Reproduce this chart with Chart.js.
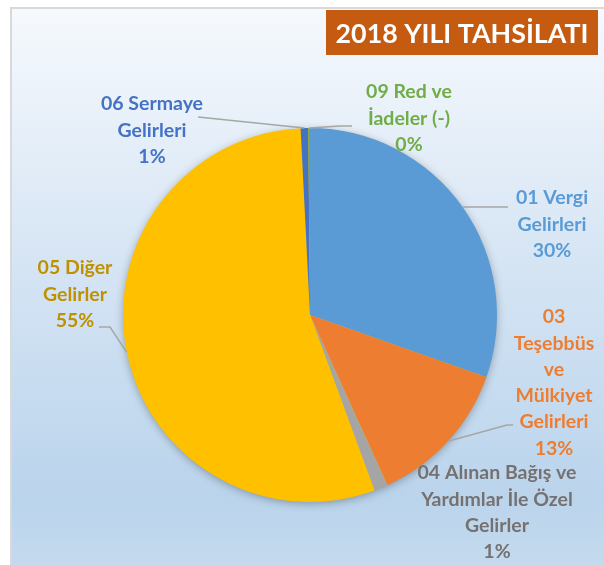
<!DOCTYPE html>
<html>
<head>
<meta charset="utf-8">
<script src="https://cdn.jsdelivr.net/npm/chart.js@4"></script>
<style>
  html, body { margin: 0; padding: 0; background: #ffffff; }
  #wrap { width: 604px; height: 565px; }
</style>
</head>
<body>
<div id="wrap"><canvas id="pieChart" width="604" height="565"></canvas></div>
<script>
// Revenue categories and their share of total collections (%)
const categories = [
    '01 Vergi Gelirleri',
    '03 Teşebbüs ve Mülkiyet Gelirleri',
    '04 Alınan Bağış ve Yardımlar İle Özel Gelirler',
    '05 Diğer Gelirler',
    '06 Sermaye Gelirleri',
    '09 Red ve İadeler (-)'
];
const shares = [30.4, 12.8, 1.2, 54.8, 0.65, 0.15];
const titleText = '2018 YILI TAHSİLATI';

// Label wording split into lines (percent line is added from the data)
const labelLines = [
    ['01 Vergi', 'Gelirleri'],
    ['03', 'Teşebbüs', 've', 'Mülkiyet', 'Gelirleri'],
    ['04 Alınan Bağış ve', 'Yardımlar İle Özel', 'Gelirler'],
    ['05 Diğer', 'Gelirler'],
    ['06 Sermaye', 'Gelirleri'],
    ['09 Red ve', 'İadeler (-)']
];

const sliceColors = ['#5B9BD5', '#ED7D31', '#A5A5A5', '#FFC000', '#4472C4', '#70AD47'];
const labelColors = ['#5B9BD5', '#ED7D31', '#767171', '#BF9000', '#4472C4', '#70AD47'];

// Label placement: centre x, first line middle y, and leader line bends
const labelPlaces = [
    { x: 552, y: 198, leader: [[508, 207]] },
    { x: 554, y: 317, leader: [[507, 425], [513, 425]] },
    { x: 497, y: 473, leader: null },
    { x: 75, y: 268, leader: [[110, 327], [99, 327]] },
    { x: 152, y: 104, leader: [[198, 117]] },
    { x: 409, y: 92, leader: [[340, 126], [352, 126]] }
];
const lineHeight = 26.3;
const labelFont = 'bold 19.5px Lato, "Open Sans", sans-serif';

// Frame, gradient background and title box
const backgroundPlugin = {
    id: 'frameBackground',
    beforeDraw(chart) {
        const ctx = chart.ctx;
        ctx.save();
        ctx.fillStyle = '#ffffff';
        ctx.fillRect(0, 0, chart.width, chart.height);
        const grad = ctx.createLinearGradient(0, 8, 0, chart.height);
        grad.addColorStop(0, '#F6F9FD');
        grad.addColorStop(0.45, '#D6E5F4');
        grad.addColorStop(0.88, '#BAD4EC');
        grad.addColorStop(1, '#C4DAEE');
        ctx.fillStyle = grad;
        ctx.fillRect(11, 8, chart.width, chart.height);
        ctx.strokeStyle = '#D9D9D9';
        ctx.lineWidth = 2;
        ctx.beginPath();
        ctx.moveTo(11, chart.height);
        ctx.lineTo(11, 8);
        ctx.lineTo(chart.width, 8);
        ctx.stroke();

        // title
        ctx.fillStyle = '#C55A11';
        ctx.fillRect(326, 10, 272, 45);
        let size = 27;
        ctx.font = 'bold ' + size + 'px Lato, "Open Sans", sans-serif';
        const w = ctx.measureText(titleText).width;
        size = size * 253 / w;
        ctx.font = 'bold ' + size + 'px Lato, "Open Sans", sans-serif';
        ctx.fillStyle = '#ffffff';
        ctx.textAlign = 'center';
        ctx.textBaseline = 'middle';
        ctx.fillText(titleText, 462, 34);
        ctx.restore();
    },
    beforeDatasetsDraw(chart) {
        // soft shadow under the pie
        const arc = chart.getDatasetMeta(0).data[0];
        if (!arc) return;
        const p = arc.getProps(['x', 'y', 'outerRadius'], true);
        const ctx = chart.ctx;
        ctx.save();
        ctx.shadowColor = 'rgba(0, 0, 0, 0.35)';
        ctx.shadowBlur = 10;
        ctx.shadowOffsetY = 2;
        ctx.fillStyle = '#FFC000';
        ctx.beginPath();
        ctx.arc(p.x, p.y, p.outerRadius - 1, 0, Math.PI * 2);
        ctx.fill();
        ctx.restore();
    }
};

// Outside labels with leader lines
const labelPlugin = {
    id: 'outsideLabels',
    afterDatasetsDraw(chart) {
        const ctx = chart.ctx;
        const meta = chart.getDatasetMeta(0);
        const values = chart.data.datasets[0].data;
        const total = values.reduce((a, b) => a + b, 0);
        ctx.save();
        meta.data.forEach((arc, i) => {
            const p = arc.getProps(['x', 'y', 'startAngle', 'endAngle', 'outerRadius'], true);
            const place = labelPlaces[i];
            if (place.leader) {
                const mid = (p.startAngle + p.endAngle) / 2;
                ctx.strokeStyle = '#A6A6A6';
                ctx.lineWidth = 1.5;
                ctx.beginPath();
                ctx.moveTo(p.x + Math.cos(mid) * p.outerRadius, p.y + Math.sin(mid) * p.outerRadius);
                place.leader.forEach(pt => ctx.lineTo(pt[0], pt[1]));
                ctx.stroke();
            }
            const pct = Math.round(values[i] / total * 100) + '%';
            const lines = labelLines[i].concat([pct]);
            ctx.font = labelFont;
            ctx.fillStyle = labelColors[i];
            ctx.textAlign = 'center';
            ctx.textBaseline = 'middle';
            lines.forEach((t, j) => ctx.fillText(t, place.x, place.y + j * lineHeight));
        });
        ctx.restore();
    }
};

const ctx = document.getElementById('pieChart').getContext('2d');
const chart = new Chart(ctx, {
    type: 'pie',
    data: {
        labels: categories,
        datasets: [{
            data: shares,
            backgroundColor: sliceColors,
            borderWidth: 0
        }]
    },
    options: {
        responsive: false,
        animation: false,
        layout: {
            padding: { left: 123, right: 107, top: 128, bottom: 63 }
        },
        plugins: {
            legend: { display: false },
            title: { display: false },
            tooltip: { enabled: false }
        }
    },
    plugins: [backgroundPlugin, labelPlugin]
});
</script>
</body>
</html>
